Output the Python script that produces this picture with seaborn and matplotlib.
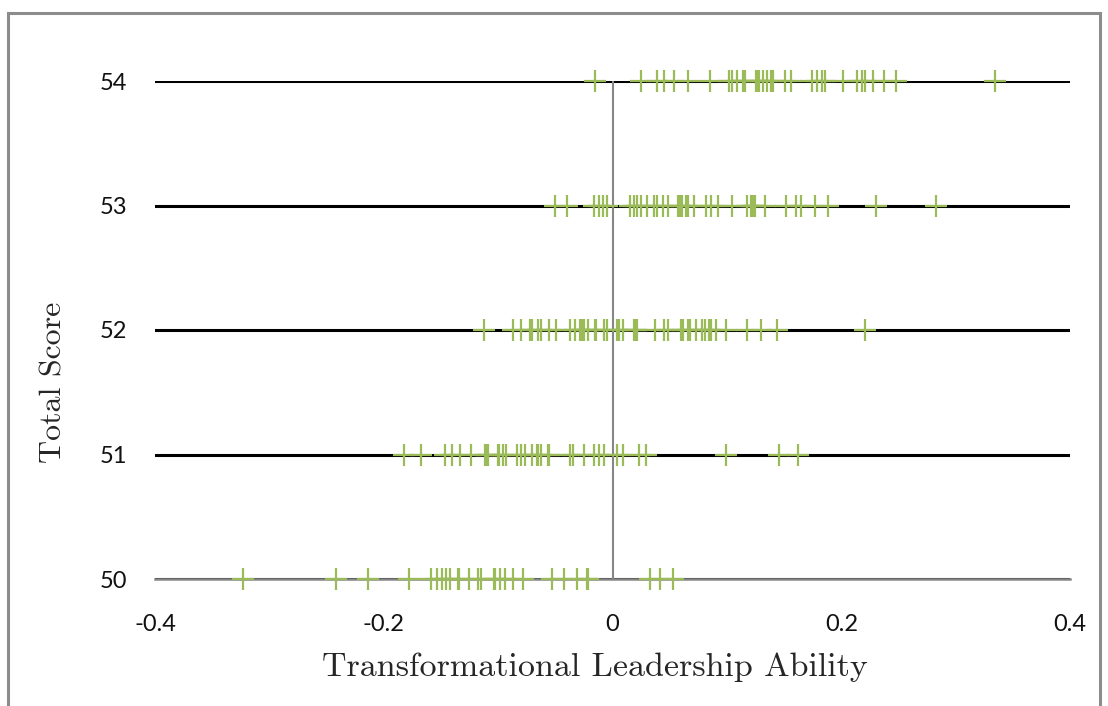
import matplotlib
matplotlib.use("Agg")
import matplotlib.pyplot as plt
import seaborn as sns
import pandas as pd
from matplotlib.patches import Rectangle

# Total score categories (y) and tick labels
scores = [50, 51, 52, 53, 54]
x_ticks = [-0.4, -0.2, 0, 0.2, 0.4]
x_tick_labels = ["-0.4", "-0.2", "0", "0.2", "0.4"]

# Transformational leadership ability values, one list per score
ability_50 = [-0.3229, -0.2416, -0.2136, -0.1781, -0.1585, -0.1533, -0.1495, -0.146,
              -0.1425, -0.1355, -0.134, -0.1259, -0.118, -0.1151, -0.104, -0.1026,
              -0.0985, -0.0942, -0.0866, -0.0784, -0.0533, -0.0426, -0.0312, -0.0227,
              -0.0213, 0.0332, 0.0417, 0.0528]
ability_51 = [-0.1825, -0.1673, -0.1463, -0.1405, -0.1335, -0.1233, -0.1119, -0.1105,
              -0.109, -0.1005, -0.0991, -0.0956, -0.0927, -0.0834, -0.0802, -0.0761,
              -0.0705, -0.0659, -0.0647, -0.0621, -0.0563, -0.0551, -0.037, -0.0341,
              -0.0251, -0.016, -0.0117, -0.007, 0.0038, 0.0096, 0.0233, 0.0292,
              0.0991, 0.1454, 0.162]
ability_52 = [-0.1125, -0.0872, -0.0804, -0.072, -0.0705, -0.0647, -0.0624, -0.0551,
              -0.0495, -0.037, -0.0332, -0.0283, -0.0268, -0.0245, -0.021, -0.0157,
              -0.0143, -0.0073, -0.0044, 0.0035, 0.0055, 0.0093, 0.0187, 0.0201,
              0.0216, 0.0373, 0.0446, 0.0484, 0.06, 0.0615, 0.0659, 0.0679, 0.0726,
              0.0781, 0.081, 0.0842, 0.0863, 0.0907, 0.0991, 0.1178, 0.13, 0.144, 0.2212]
ability_53 = [-0.0507, -0.0397, -0.0163, -0.0117, -0.0087, -0.0047, 0.0152, 0.0187,
              0.0216, 0.0245, 0.0303, 0.0361, 0.0385, 0.0443, 0.0487, 0.0577, 0.0589,
              0.0612, 0.0644, 0.0656, 0.0711, 0.0816, 0.0863, 0.0921, 0.1049, 0.1175,
              0.1215, 0.1227, 0.1239, 0.125, 0.1329, 0.1513, 0.1606, 0.1652, 0.1772,
              0.1886, 0.2306, 0.2827]
ability_54 = [-0.0157, 0.0251, 0.0388, 0.0446, 0.0542, 0.0656, 0.0851, 0.102, 0.1046,
              0.109, 0.1137, 0.1148, 0.116, 0.1259, 0.127, 0.1283, 0.1314, 0.1352,
              0.1387, 0.1399, 0.151, 0.1562, 0.1746, 0.179, 0.183, 0.186, 0.2014,
              0.214, 0.218, 0.221, 0.228, 0.2376, 0.2477, 0.334]

groups = [ability_50, ability_51, ability_52, ability_53, ability_54]
df = pd.DataFrame({
    "ability": [v for g in groups for v in g],
    "score": [s for s, g in zip(scores, groups) for _ in g],
})

sns.set_style("white")
fig = plt.figure(figsize=(11.08, 7.06), dpi=100)
ax = fig.add_axes([155 / 1108, 1 - 579 / 706, 915 / 1108, 498 / 706])

ax.yaxis.grid(True, color="black", linewidth=2.2, zorder=1)
ax.set_axisbelow(True)
ax.axvline(0, color="#868686", linewidth=1.5, zorder=2)

sns.scatterplot(data=df, x="ability", y="score", marker="+", s=250,
                color="#9BBB59", linewidth=1.6, ax=ax, zorder=3, clip_on=False)

ax.set_xlim(-0.4, 0.4)
ax.set_ylim(50, 54)
ax.set_xticks(x_ticks)
ax.set_xticklabels(x_tick_labels)
ax.set_yticks(scores)
ax.set_yticklabels([str(s) for s in scores])

for side in ["top", "right", "left"]:
    ax.spines[side].set_visible(False)
ax.spines["bottom"].set_color("#868686")
ax.spines["bottom"].set_linewidth(1.8)
ax.spines["bottom"].set_zorder(2)

ax.tick_params(axis="x", direction="out", length=6.5, width=1.5, color="#868686",
               pad=19, labelsize=17, labelcolor="#111111")
ax.tick_params(axis="y", length=0, pad=20, labelsize=17, labelcolor="#111111")
for lab in ax.get_xticklabels() + ax.get_yticklabels():
    lab.set_family("Lato")

ax.set_xlabel("Transformational Leadership Ability", fontsize=24.5, family="cmr10")
ax.set_ylabel("Total Score", fontsize=23, family="cmr10")
ax.xaxis.set_label_coords(0.481, -0.148)
ax.yaxis.set_label_coords(-0.096, 0.394)

# grey frame around the whole picture
fig.patches.append(Rectangle((8 / 1108, -0.05), 1092 / 1108, 1.05 - 13 / 706,
                             transform=fig.transFigure, fill=False,
                             edgecolor="#8c8c8c", linewidth=2.2))

fig.savefig("out.png", dpi=100)
